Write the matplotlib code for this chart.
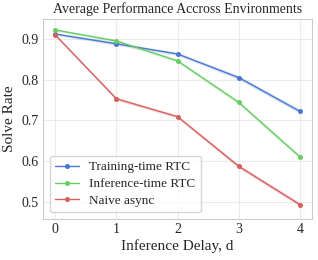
import matplotlib
matplotlib.use("Agg")
import matplotlib.pyplot as plt
import seaborn as sns
import numpy as np

delays = [0, 1, 2, 3, 4]
training_rtc = [0.912, 0.888, 0.863, 0.805, 0.722]
inference_rtc = [0.922, 0.895, 0.846, 0.744, 0.610]
naive_async = [0.910, 0.753, 0.709, 0.587, 0.493]
band = [0.003, 0.004, 0.004, 0.005, 0.005]

series = [
    ("Training-time RTC", training_rtc, "#4878d0"),
    ("Inference-time RTC", inference_rtc, "#6acc64"),
    ("Naive async", naive_async, "#d65f5f"),
]

sns.set_style("whitegrid")
plt.rcParams['font.family'] = ['Liberation Serif', 'DejaVu Serif']

fig, ax = plt.subplots(figsize=(3.18, 2.6), dpi=100)
for name, vals, col in series:
    v = np.array(vals)
    b = np.array(band)
    ax.fill_between(delays, v - b, v + b, color=col, alpha=0.2, lw=0)
    ax.plot(delays, v, marker='o', ms=2.6, lw=1.0, color=col, label=name)

ax.set_xlim(-0.2, 4.2)
ax.set_ylim(0.458, 0.949)
ax.set_xticks(delays)
ax.set_yticks([0.5, 0.6, 0.7, 0.8, 0.9])
ax.tick_params(labelsize=10, length=0, pad=3)
for s in ax.spines.values():
    s.set_color("#cccccc")
ax.grid(color="#ebebeb", lw=0.8)
ax.set_xlabel("Inference Delay, d", fontsize=11, labelpad=2)
ax.set_ylabel("Solve Rate", fontsize=11, labelpad=4)
ax.set_title("Average Performance Accross Environments", fontsize=10, pad=4)
ax.legend(loc="lower left", fontsize=9.5, frameon=True, handlelength=1.8,
          borderpad=0.4, labelspacing=0.35, handletextpad=0.8)

fig.subplots_adjust(left=0.135, right=0.982, top=0.927, bottom=0.158)
fig.savefig("out.png", dpi=100)
